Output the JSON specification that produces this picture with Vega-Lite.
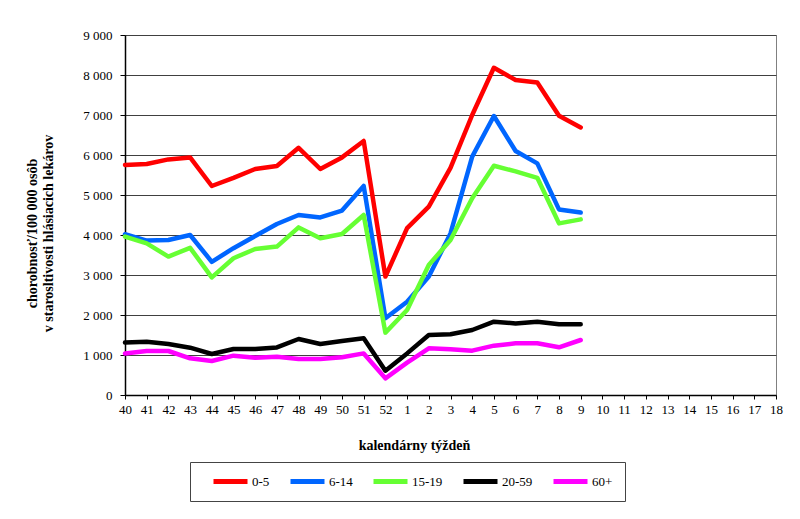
{
  "$schema": "https://vega.github.io/schema/vega-lite/v6.json",
  "width": 651,
  "height": 360,
  "autosize": "none",
  "padding": {"left": 125, "top": 35, "right": 24, "bottom": 124},
  "background": "white",
  "config": {
    "view": {"stroke": "#808080", "strokeWidth": 1},
    "font": "Liberation Serif",
    "axis": {"labelFont": "Liberation Serif", "titleFont": "Liberation Serif", "labelColor": "black", "titleColor": "black", "domainColor": "black", "tickColor": "black"}
  },
  "data": {"values": [
    {"w":"40","g":"0-5","v":5750},{"w":"41","g":"0-5","v":5775},{"w":"42","g":"0-5","v":5890},{"w":"43","g":"0-5","v":5940},{"w":"44","g":"0-5","v":5225},{"w":"45","g":"0-5","v":5430},{"w":"46","g":"0-5","v":5650},{"w":"47","g":"0-5","v":5725},{"w":"48","g":"0-5","v":6180},{"w":"49","g":"0-5","v":5650},{"w":"50","g":"0-5","v":5940},{"w":"51","g":"0-5","v":6350},{"w":"52","g":"0-5","v":2960},{"w":"1","g":"0-5","v":4170},{"w":"2","g":"0-5","v":4710},{"w":"3","g":"0-5","v":5680},{"w":"4","g":"0-5","v":7000},{"w":"5","g":"0-5","v":8180},{"w":"6","g":"0-5","v":7875},{"w":"7","g":"0-5","v":7810},{"w":"8","g":"0-5","v":6980},{"w":"9","g":"0-5","v":6690},
    {"w":"40","g":"6-14","v":4020},{"w":"41","g":"6-14","v":3860},{"w":"42","g":"6-14","v":3875},{"w":"43","g":"6-14","v":4000},{"w":"44","g":"6-14","v":3330},{"w":"45","g":"6-14","v":3670},{"w":"46","g":"6-14","v":3975},{"w":"47","g":"6-14","v":4275},{"w":"48","g":"6-14","v":4500},{"w":"49","g":"6-14","v":4440},{"w":"50","g":"6-14","v":4610},{"w":"51","g":"6-14","v":5225},{"w":"52","g":"6-14","v":1920},{"w":"1","g":"6-14","v":2330},{"w":"2","g":"6-14","v":2960},{"w":"3","g":"6-14","v":4040},{"w":"4","g":"6-14","v":5960},{"w":"5","g":"6-14","v":6975},{"w":"6","g":"6-14","v":6100},{"w":"7","g":"6-14","v":5790},{"w":"8","g":"6-14","v":4640},{"w":"9","g":"6-14","v":4560},
    {"w":"40","g":"15-19","v":3960},{"w":"41","g":"15-19","v":3790},{"w":"42","g":"15-19","v":3460},{"w":"43","g":"15-19","v":3680},{"w":"44","g":"15-19","v":2940},{"w":"45","g":"15-19","v":3420},{"w":"46","g":"15-19","v":3650},{"w":"47","g":"15-19","v":3710},{"w":"48","g":"15-19","v":4190},{"w":"49","g":"15-19","v":3920},{"w":"50","g":"15-19","v":4025},{"w":"51","g":"15-19","v":4500},{"w":"52","g":"15-19","v":1560},{"w":"1","g":"15-19","v":2125},{"w":"2","g":"15-19","v":3250},{"w":"3","g":"15-19","v":3875},{"w":"4","g":"15-19","v":4920},{"w":"5","g":"15-19","v":5730},{"w":"6","g":"15-19","v":5590},{"w":"7","g":"15-19","v":5430},{"w":"8","g":"15-19","v":4290},{"w":"9","g":"15-19","v":4390},
    {"w":"40","g":"20-59","v":1310},{"w":"41","g":"20-59","v":1333},{"w":"42","g":"20-59","v":1275},{"w":"43","g":"20-59","v":1183},{"w":"44","g":"20-59","v":1025},{"w":"45","g":"20-59","v":1150},{"w":"46","g":"20-59","v":1150},{"w":"47","g":"20-59","v":1190},{"w":"48","g":"20-59","v":1400},{"w":"49","g":"20-59","v":1275},{"w":"50","g":"20-59","v":1350},{"w":"51","g":"20-59","v":1417},{"w":"52","g":"20-59","v":608},{"w":"1","g":"20-59","v":1040},{"w":"2","g":"20-59","v":1500},{"w":"3","g":"20-59","v":1517},{"w":"4","g":"20-59","v":1625},{"w":"5","g":"20-59","v":1833},{"w":"6","g":"20-59","v":1790},{"w":"7","g":"20-59","v":1833},{"w":"8","g":"20-59","v":1767},{"w":"9","g":"20-59","v":1767},
    {"w":"40","g":"60+","v":1040},{"w":"41","g":"60+","v":1100},{"w":"42","g":"60+","v":1100},{"w":"43","g":"60+","v":917},{"w":"44","g":"60+","v":850},{"w":"45","g":"60+","v":983},{"w":"46","g":"60+","v":933},{"w":"47","g":"60+","v":958},{"w":"48","g":"60+","v":900},{"w":"49","g":"60+","v":900},{"w":"50","g":"60+","v":945},{"w":"51","g":"60+","v":1040},{"w":"52","g":"60+","v":417},{"w":"1","g":"60+","v":808},{"w":"2","g":"60+","v":1167},{"w":"3","g":"60+","v":1142},{"w":"4","g":"60+","v":1108},{"w":"5","g":"60+","v":1233},{"w":"6","g":"60+","v":1292},{"w":"7","g":"60+","v":1292},{"w":"8","g":"60+","v":1192},{"w":"9","g":"60+","v":1375}
  ]},
  "mark": {"type": "line", "strokeWidth": 4.5, "strokeJoin": "round", "strokeCap": "round"},
  "encoding": {
    "x": {
      "field": "w", "type": "ordinal",
      "scale": {"type": "point", "padding": 0, "domain": ["40","41","42","43","44","45","46","47","48","49","50","51","52","1","2","3","4","5","6","7","8","9","10","11","12","13","14","15","16","17","18"]},
      "axis": {"title": "kalendárny týždeň", "titleFontSize": 14, "titleFontWeight": "bold", "titleX": 289, "titleY": 50, "titleAlign": "center", "titleBaseline": "middle", "labelAngle": 0, "labelFontSize": 13, "labelPadding": 4, "tickSize": 4, "grid": false, "domainWidth": 1.5}
    },
    "y": {
      "field": "v", "type": "quantitative",
      "scale": {"domain": [0, 9000], "nice": false},
      "axis": {"title": ["chorobnosť/100 000 osôb", "v starosltivosti hlásiacich lekárov"], "titleFontSize": 14, "titleFontWeight": "bold", "titleAngle": 270, "titleX": -89, "titleY": 198, "titleAlign": "center", "titleBaseline": "alphabetic", "titleLineHeight": 16, "values": [0,1000,2000,3000,4000,5000,6000,7000,8000,9000], "labelExpr": "replace(format(datum.value, ','), ',', ' ')", "labelFontSize": 13, "labelPadding": 8, "tickSize": 5, "grid": true, "gridColor": "#404040", "gridWidth": 1.2, "domainWidth": 1.5}
    },
    "color": {
      "field": "g", "type": "nominal", "sort": ["0-5","6-14","15-19","20-59","60+"],
      "scale": {"domain": ["0-5","6-14","15-19","20-59","60+"], "range": ["#ff0000","#0066ff","#66ff33","#000000","#ff00ff"]},
      "legend": {"title": " ", "titleOrient": "left", "titlePadding": 9, "titleFontSize": 13, "orient": "none", "legendX": 65, "legendY": 427, "direction": "horizontal", "columns": 5, "gridAlign": "none", "padding": 12, "strokeColor": "#444444", "symbolType": "stroke", "symbolSize": 1156, "symbolStrokeWidth": 5, "clipHeight": 15, "labelOffset": 2, "labelFont": "Liberation Serif", "labelFontSize": 13, "labelColor": "black", "columnPadding": 18}
    }
  }
}
